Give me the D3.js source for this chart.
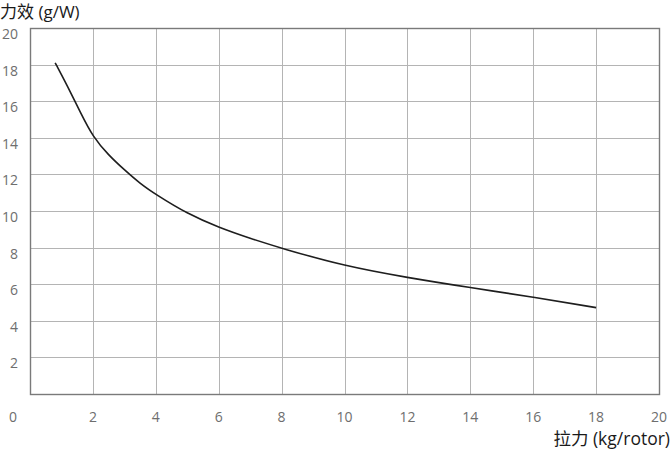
<!DOCTYPE html>
<html>
<head>
<meta charset="utf-8">
<script src="https://cdn.jsdelivr.net/npm/d3@7"></script>
<style>
  body { margin: 0; background: #fff; }
  svg { display: block; font-family: "Open Sans", "Noto Sans", "Noto Sans CJK SC", sans-serif; }
</style>
</head>
<body>
<svg width="671" height="452"></svg>
<script>
// thrust (kg/rotor) vs efficiency (g/W)
const thrust = [0.8, 1.2, 1.6, 2, 2.5, 3, 3.5, 4, 5, 6, 7, 8, 10, 12, 14, 16, 18];
const efficiency = [18.1, 16.8, 15.4, 14.05, 13.05, 12.25, 11.5, 10.9, 9.85, 9.1, 8.5, 7.96, 6.99, 6.36, 5.81, 5.3, 4.72];
const xTicks = [2, 4, 6, 8, 10, 12, 14, 16, 18, 20];
const yTicks = [2, 4, 6, 8, 10, 12, 14, 16, 18, 20];

let svg = d3.select("svg");

let x = d3.scaleLinear().domain([0, 20]).range([30, 659]);
let y = d3.scaleLinear().domain([0, 20]).range([394, 28]);

// grid
let grid = svg.append("g").attr("class", "grid")
    .attr("stroke", "#b4b4b4")
    .attr("stroke-width", 1)
    .attr("shape-rendering", "crispEdges");

grid.selectAll("line.v")
    .data(xTicks.slice(0, -1))
    .enter().append("line")
    .attr("class", "v")
    .attr("x1", d => Math.round(x(d)) + 0.5)
    .attr("x2", d => Math.round(x(d)) + 0.5)
    .attr("y1", y(20))
    .attr("y2", y(0));

grid.selectAll("line.h")
    .data(yTicks.slice(0, -1))
    .enter().append("line")
    .attr("class", "h")
    .attr("x1", x(0))
    .attr("x2", x(20))
    .attr("y1", d => Math.round(y(d)) + 0.5)
    .attr("y2", d => Math.round(y(d)) + 0.5);

// frame
svg.append("rect")
    .attr("x", x(0) + 0.5)
    .attr("y", y(20) + 0.5)
    .attr("width", x(20) - x(0))
    .attr("height", y(0) - y(20))
    .attr("fill", "none")
    .attr("stroke", "#7a7a7a")
    .attr("stroke-width", 1.4);

// tick labels
let labels = svg.append("g")
    .attr("fill", "#6e6e6e")
    .attr("font-size", 14);

// y labels hang just below their grid line
labels.selectAll("text.y")
    .data(yTicks)
    .enter().append("text")
    .attr("class", "y")
    .attr("x", 18)
    .attr("y", d => y(d) + 11)
    .attr("text-anchor", "end")
    .text(d => d);

labels.selectAll("text.x")
    .data(xTicks)
    .enter().append("text")
    .attr("class", "x")
    .attr("x", d => x(d))
    .attr("y", 417)
    .attr("dy", "0.35em")
    .attr("text-anchor", "middle")
    .text(d => d);

// origin label sits under the y labels
labels.append("text")
    .attr("x", 13)
    .attr("y", 417)
    .attr("dy", "0.35em")
    .attr("text-anchor", "middle")
    .text("0");

// axis titles
svg.append("text")
    .attr("x", 0)
    .attr("y", 18)
    .attr("font-size", 17)
    .attr("fill", "#1a1a1a")
    .text("力效 (g/W)");

svg.append("text")
    .attr("x", 670)
    .attr("y", 445)
    .attr("font-size", 17.5)
    .attr("fill", "#1a1a1a")
    .attr("text-anchor", "end")
    .text("拉力 (kg/rotor)");

// curve
let line = d3.line()
    .x((d, i) => x(thrust[i]))
    .y(d => y(d))
    .curve(d3.curveBasis);

svg.append("path")
    .datum(efficiency)
    .attr("fill", "none")
    .attr("stroke", "#1e1e1e")
    .attr("stroke-width", 1.6)
    .attr("d", line);
</script>
</body>
</html>
